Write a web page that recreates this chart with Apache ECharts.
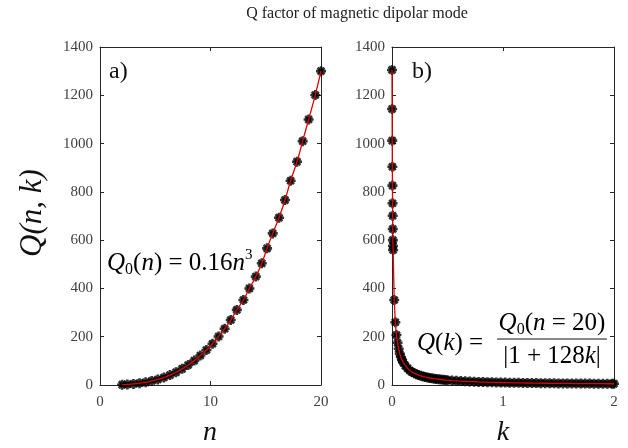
<!DOCTYPE html>
<html>
<head>
<meta charset="utf-8">
<script src="https://cdn.jsdelivr.net/npm/echarts@6/dist/echarts.min.js"></script>
<style>
html,body{margin:0;padding:0;background:#fff;}
#chart{width:628px;height:448px;}
</style>
</head>
<body>
<div id="chart"></div>
<script>
// Panel a): Q versus n
var nValues = [2.0, 2.48, 3.03, 3.58, 4.13, 4.68, 5.23, 5.78, 6.33, 6.88, 7.43, 7.98, 8.53, 9.08, 9.63, 10.18, 10.73, 11.28, 11.83,
  12.38, 12.98, 13.52, 14.1, 14.64, 15.12, 15.63, 16.2, 16.74, 17.25, 17.83, 18.34, 18.88, 19.48, 20.0];
var qnValues = [1.3, 2.5, 4.5, 7.5, 11, 17, 23, 31, 41, 53, 67, 83, 101, 122, 145, 171, 201, 233, 269,
  311, 352, 400, 449, 504, 566, 628, 693, 766, 846, 925, 1010, 1100, 1201, 1300];
// Panel b): Q versus k
var kValues = [0, 0.001, 0.002, 0.003, 0.004, 0.005, 0.006, 0.007, 0.008, 0.009, 0.01,
  0.02, 0.03, 0.04, 0.05, 0.06, 0.07, 0.08, 0.09, 0.1,
  0.12, 0.14, 0.16, 0.18, 0.2, 0.22, 0.24, 0.26, 0.28, 0.3, 0.32, 0.34, 0.36, 0.38, 0.4, 0.42, 0.44, 0.46, 0.48, 0.5,
  0.54, 0.58, 0.62, 0.66, 0.7, 0.74, 0.78, 0.82, 0.86, 0.9, 0.94, 0.98,
  1.02, 1.06, 1.1, 1.14, 1.18, 1.22, 1.26, 1.3, 1.34, 1.38, 1.42, 1.46, 1.5, 1.54, 1.58, 1.62, 1.66, 1.7,
  1.74, 1.78, 1.82, 1.86, 1.9, 1.94, 1.98, 2.0];
var qkValues = [1305, 1143, 1012, 904, 826, 753, 701, 646, 600, 576, 559,
  352, 260, 207, 175, 150, 130, 116, 104, 94,
  80, 69, 60, 54, 49, 45, 41, 38, 35, 33, 31, 29, 27.6, 26, 25, 23.7, 22.7, 21.7, 20.8, 20,
  18.5, 17.3, 16.1, 15.2, 14.3, 13.6, 12.9, 12.3, 11.7, 11.2, 10.7, 10.3,
  9.9, 9.5, 9.2, 8.9, 8.6, 8.3, 8.0, 7.8, 7.5, 7.3, 7.1, 6.9, 6.7, 6.6, 6.4, 6.2, 6.1, 6.0,
  5.8, 5.7, 5.6, 5.4, 5.3, 5.2, 5.1, 5.1];
var nAxisRange = [0, 20, 10];
var kAxisRange = [0, 2, 1];
var qAxisRange = [0, 1400, 200];
var titleText = 'Q factor of magnetic dipolar mode';

function pairs(xs, ys) { return xs.map(function (x, i) { return [x, ys[i]]; }); }

var SERIF = '"Liberation Serif", "DejaVu Serif", serif';
var AXC = '#262626';
var LBL = '#404040';
var star = 'path://M5 0L5 10M0 5L10 5M1.6 1.6L8.4 8.4M8.4 1.6L1.6 8.4M3.2 2.6L6.8 2.6L7.4 3.2L7.4 6.8L6.8 7.4L3.2 7.4L2.6 6.8L2.6 3.2Z';
function plain(v) { return String(v); }

function xAx(grid, r, pos, labels) {
  return {
    gridIndex: grid, type: 'value', min: r[0], max: r[1], interval: r[2], position: pos,
    axisLine: { show: true, onZero: false, lineStyle: { color: AXC, width: 1 } },
    axisTick: { show: true, inside: true, length: 4, lineStyle: { color: AXC, width: 1 } },
    axisLabel: { show: labels, fontFamily: SERIF, fontSize: 15, color: LBL, margin: 10, formatter: plain },
    splitLine: { show: false }
  };
}
function yAx(grid, r, pos, labels) {
  return {
    gridIndex: grid, type: 'value', min: r[0], max: r[1], interval: r[2], position: pos,
    axisLine: { show: true, onZero: false, lineStyle: { color: AXC, width: 1 } },
    axisTick: { show: true, inside: true, length: 4, lineStyle: { color: AXC, width: 1 } },
    axisLabel: { show: labels, fontFamily: SERIF, fontSize: 15, color: LBL, margin: 7, formatter: plain },
    splitLine: { show: false }
  };
}

var mathRich = {
  i: { fontFamily: SERIF, fontStyle: 'italic', fontSize: 25, color: '#111', lineHeight: 30 },
  r: { fontFamily: SERIF, fontSize: 25, color: '#111', lineHeight: 30 },
  sub: { fontFamily: SERIF, fontSize: 16, color: '#111', lineHeight: 15, verticalAlign: 'bottom' },
  sup: { fontFamily: SERIF, fontSize: 15, color: '#111', lineHeight: 15, verticalAlign: 'top' }
};

var chart = echarts.init(document.getElementById('chart'), null, { renderer: 'canvas' });
chart.setOption({
  backgroundColor: '#fff',
  animation: false,
  grid: [
    { left: 100, top: 47, width: 221, height: 338 },
    { left: 392, top: 47, width: 222, height: 338 }
  ],
  xAxis: [
    xAx(0, nAxisRange, 'bottom', true), xAx(0, nAxisRange, 'top', false),
    xAx(1, kAxisRange, 'bottom', true), xAx(1, kAxisRange, 'top', false)
  ],
  yAxis: [
    yAx(0, qAxisRange, 'left', true), yAx(0, qAxisRange, 'right', false),
    yAx(1, qAxisRange, 'left', true), yAx(1, qAxisRange, 'right', false)
  ],
  series: [
    { type: 'scatter', xAxisIndex: 0, yAxisIndex: 0, data: pairs(nValues, qnValues),
      symbol: star, symbolSize: 10, itemStyle: { color: '#000', borderColor: '#000', borderWidth: 2.6 }, z: 2 },
    { type: 'line', xAxisIndex: 0, yAxisIndex: 0, data: pairs(nValues, qnValues), smooth: true,
      showSymbol: false, lineStyle: { color: '#e00000', width: 1.3 }, z: 3 },
    { type: 'scatter', xAxisIndex: 2, yAxisIndex: 2, data: pairs(kValues, qkValues), clip: false,
      symbol: star, symbolSize: 10, itemStyle: { color: '#000', borderColor: '#000', borderWidth: 2.6 }, z: 2 },
    { type: 'line', xAxisIndex: 2, yAxisIndex: 2, data: pairs(kValues, qkValues),
      showSymbol: false, lineStyle: { color: '#e00000', width: 1.3 }, z: 3 }
  ],
  graphic: [
    { type: 'text', x: 357, y: 14, style: { text: titleText, align: 'center', verticalAlign: 'middle',
      font: '16px ' + SERIF, fill: '#222' } },
    { type: 'text', x: 33, y: 213, rotation: Math.PI / 2, style: { text: 'Q(n, k)', align: 'center', verticalAlign: 'middle',
      font: 'italic 31px ' + SERIF, fill: '#111' } },
    { type: 'text', x: 210, y: 433, style: { text: 'n', align: 'center', verticalAlign: 'middle', font: 'italic 28px ' + SERIF, fill: '#111' } },
    { type: 'text', x: 503, y: 433, style: { text: 'k', align: 'center', verticalAlign: 'middle', font: 'italic 28px ' + SERIF, fill: '#111' } },
    { type: 'text', x: 109, y: 72, style: { text: 'a)', align: 'left', verticalAlign: 'middle', font: '24px ' + SERIF, fill: '#111' } },
    { type: 'text', x: 412, y: 72, style: { text: 'b)', align: 'left', verticalAlign: 'middle', font: '24px ' + SERIF, fill: '#111' } },
    { type: 'text', x: 107, y: 263, z: 10, style: {
      text: '{i|Q}{sub|0}{r|(}{i|n}{r|) = 0.16}{i|n}{sup|3}', rich: mathRich, align: 'left', verticalAlign: 'middle' } },
    { type: 'text', x: 417, y: 343, z: 10, style: {
      text: '{i|Q}{r|(}{i|k}{r|) =}', rich: mathRich, align: 'left', verticalAlign: 'middle' } },
    { type: 'text', x: 552, y: 323, z: 10, style: {
      text: '{i|Q}{sub|0}{r|(}{i|n}{r| = 20)}', rich: mathRich, align: 'center', verticalAlign: 'middle' } },
    { type: 'line', z: 10, shape: { x1: 497, y1: 339, x2: 607, y2: 339 }, style: { stroke: '#111', lineWidth: 1 } },
    { type: 'text', x: 552, y: 356, z: 10, style: {
      text: '{r||1 + 128}{i|k}{r||}', rich: mathRich, align: 'center', verticalAlign: 'middle' } }
  ]
});
</script>
</body>
</html>
